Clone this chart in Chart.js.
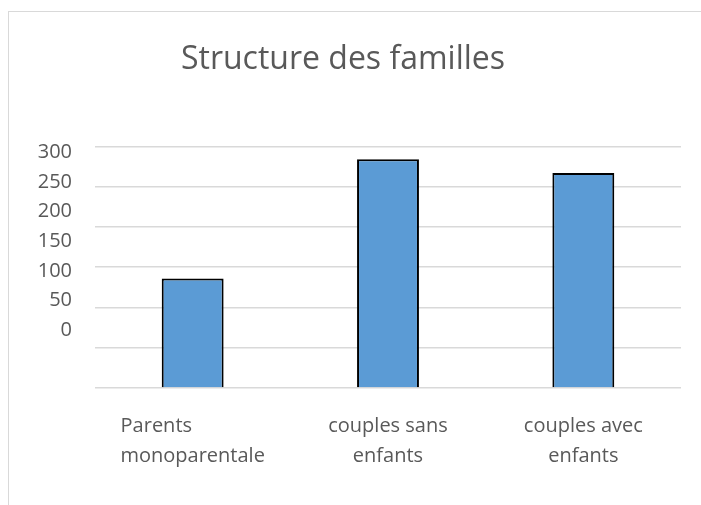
<!DOCTYPE html>
<html>
<head>
<meta charset="utf-8">
<script src="https://cdn.jsdelivr.net/npm/chart.js@4.4.1/dist/chart.umd.min.js"></script>
<style>
  html, body { margin: 0; padding: 0; background: #ffffff; }
  #wrap { position: relative; width: 701px; height: 505px; overflow: hidden; }
  #frame { position: absolute; left: 8px; top: 11px; width: 720px; height: 520px; border: 1px solid #d9d9d9; box-sizing: border-box; }
  #c { position: absolute; left: 0; top: 0; }
</style>
</head>
<body>
<div id="wrap">
  <div id="frame"></div>
  <canvas id="c" width="701" height="505"></canvas>
</div>
<script>
const TITLE = "Structure des familles";
const CATEGORIES = [["Parents              ", "monoparentale"], ["couples sans", "enfants"], ["couples avec", "enfants"]];
const VALUES = [136, 284, 267];
const Y_TICKS = [0, 50, 100, 150, 200, 250, 300];

const TEXT = "#595959";
const FONT = "'Open Sans', Lato, sans-serif";

new Chart(document.getElementById("c"), {
  type: "bar",
  data: {
    labels: CATEGORIES,
    datasets: [{
      data: VALUES,
      backgroundColor: "#5b9bd5",
      borderColor: "#000000",
      borderWidth: 2,
      barPercentage: 0.317,
      categoryPercentage: 1.0,
      yAxisID: "y"
    }]
  },
  options: {
    responsive: false,
    animation: false,
    events: [],
    layout: { padding: { left: 5, right: 20, top: 0, bottom: 0 } },
    plugins: {
      legend: { display: false },
      tooltip: { enabled: false },
      title: {
        display: true,
        text: TITLE,
        color: TEXT,
        font: { family: FONT, size: 32, weight: "normal", lineHeight: 1.2 },
        padding: { top: 41, bottom: 67 }
      }
    },
    scales: {
      x: {
        grid: { display: false, drawTicks: false },
        border: { display: false },
        ticks: { color: TEXT, font: { family: FONT, size: 20, lineHeight: 1.5 }, padding: 23, maxRotation: 0, autoSkip: false },
        afterFit: (s) => { s.height = 117; }
      },
      yl: {
        position: "left",
        weight: 1,
        min: -97.8,
        max: 310.1,
        grid: { display: false, drawTicks: false },
        border: { display: false },
        ticks: { color: TEXT, font: { family: FONT, size: 20 }, padding: 0 },
        afterBuildTicks: (s) => { s.ticks = Y_TICKS.map(v => ({ value: v })); },
        afterFit: (s) => { s.width = 67; }
      },
      y: {
        position: "left",
        weight: 0,
        min: 0,
        max: 300,
        grid: { color: "#d9d9d9", lineWidth: 1.5, drawTicks: false },
        border: { display: false },
        ticks: { display: false, stepSize: 50 },
        afterFit: (s) => { s.width = 23; }
      }
    }
  }
});
</script>
</body>
</html>
